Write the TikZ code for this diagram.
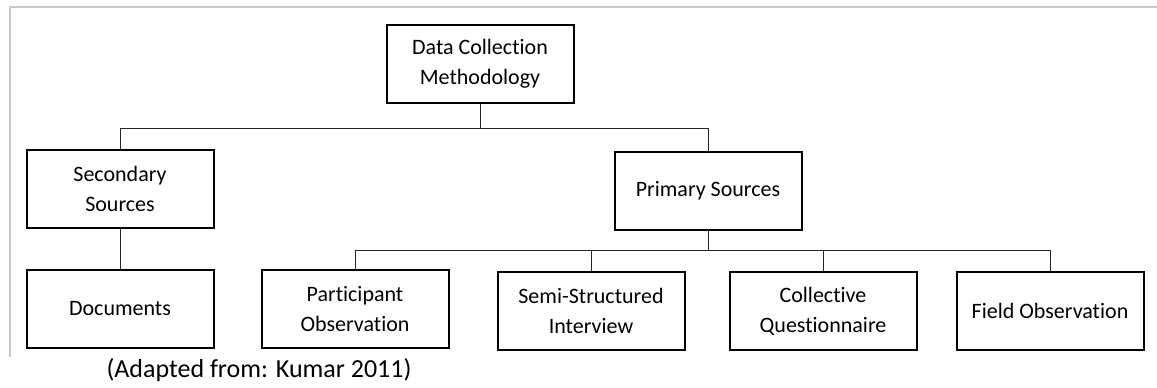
\documentclass[tikz,border=0pt]{standalone}
\usepackage{fontspec}
\setmainfont{Carlito}[Ligatures=NoCommon]
\begin{document}
\begin{tikzpicture}[
                x = 0.5pt,
                y = -0.5pt,
                semithick
                ]

                \tikzstyle{box}=[
                        draw = black,
                        rectangle,
                        line width = 1pt,
                        fill = white,
                        align = center,
                        minimum width = 93.5pt,
                        minimum height = 39pt,
                        font = \fontsize{11}{15}\selectfont
                ]
                \tikzstyle{link}=[
                        draw = black!85,
                        line width = 0.5pt
                ]

                \useasboundingbox (0,0) rectangle (1157,387);
                \draw[black!22, line width = 0.6pt] (10,357) -- (10,7) -- (1157,7);

                \node[box] (dcm) at (480,64) {Data Collection\\Methodology};
                \node[box] (sec) at (120,189) {Secondary\\Sources};
                \node[box] (prim) at (708,191) {Primary Sources};
                \node[box] (doc) at (120,309) {Documents};
                \node[box] (part) at (355,309) {Participant\\Observation};
                \node[box] (semi) at (591,311) {Semi-Structured\\Interview};
                \node[box] (coll) at (823,311) {Collective\\Questionnaire};
                \node[box] (field) at (1050,311) {Field Observation};

                \coordinate (top) at (480,128);
                \coordinate (low) at (708,250);

                \draw[link] (dcm) -- (top);
                \draw[link] (top) -| (sec);
                \draw[link] (top) -| (prim);
                \draw[link] (sec) -- (doc);
                \draw[link] (prim) -- (low);
                \draw[link] (low) -| (part);
                \draw[link] (low) -| (semi);
                \draw[link] (low) -| (coll);
                \draw[link] (low) -| (field);

                \node[font = \fontsize{13}{15}\selectfont] (src) at (259,370) {(Adapted from: Kumar 2011)};
\end{tikzpicture}
\end{document}
